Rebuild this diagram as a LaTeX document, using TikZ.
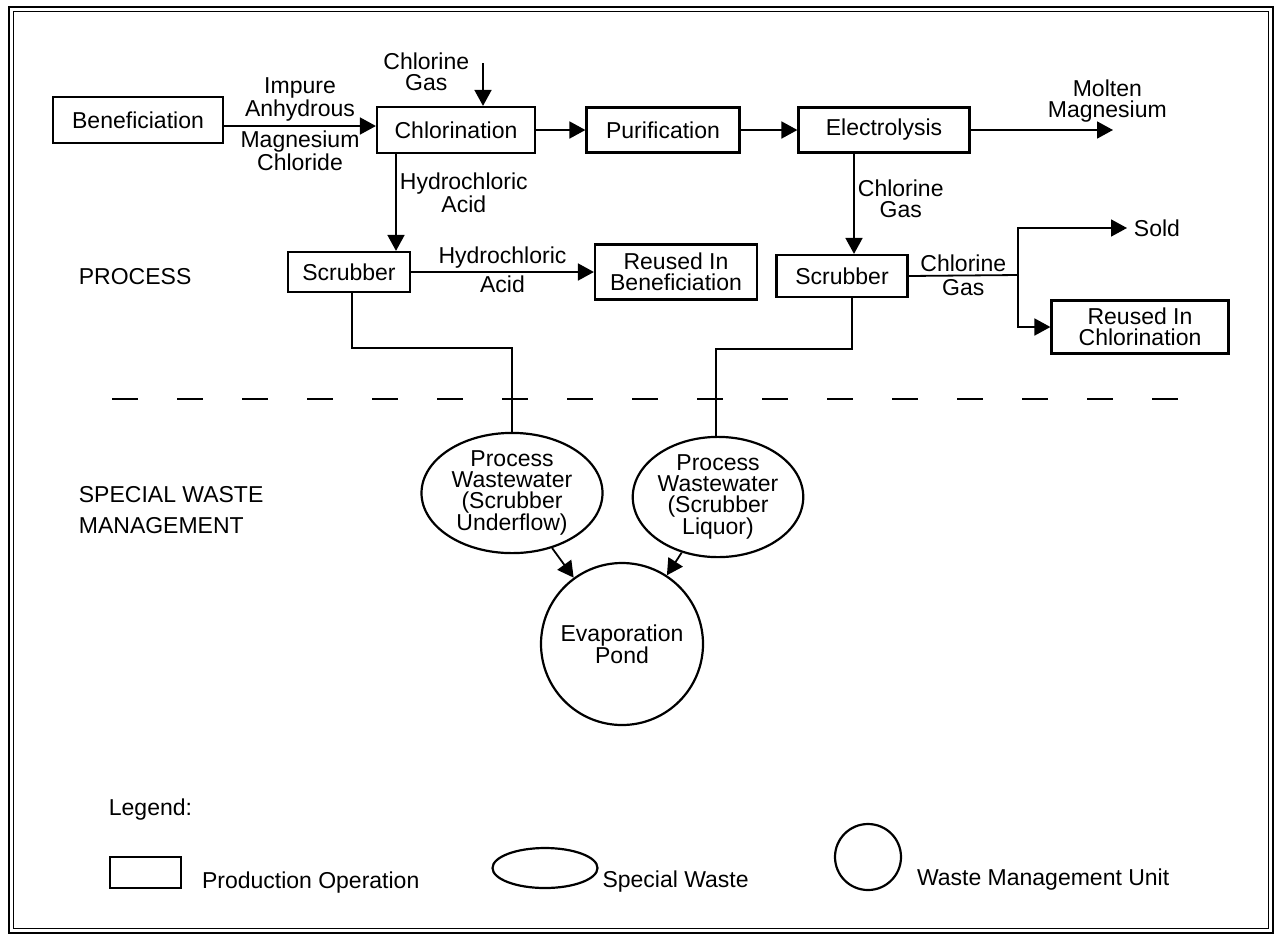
\documentclass[tikz,border=0pt]{standalone}
\usepackage{fontspec}
\setmainfont{Liberation Sans}
\usetikzlibrary{shapes,arrows.meta,calc,positioning}

\tikzset{
  opbox/.style={draw,rectangle,line width=2.2pt,inner sep=2pt,align=center},
  waste/.style={draw,ellipse,line width=2.2pt,inner sep=0pt,align=center,
                font=\fontsize{23}{21}\selectfont},
  unit/.style={draw,circle,line width=2.2pt,inner sep=0pt,align=center},
  flow/.style={align=center,inner sep=3pt},
  legtext/.style={inner sep=0pt}
}

\begin{document}
\begin{tikzpicture}[x=1pt,y=-1pt,->,>={Triangle[length=16pt,width=17pt]},auto,
                    node distance=200pt,line width=1.8pt,
                    font=\fontsize{23}{21}\selectfont]

 \useasboundingbox (0,0) rectangle (1279,938);
 \draw[-,line width=2.6pt] (9,7) rectangle (1273,933);
 \draw[-,line width=1pt] (13.5,11.5) rectangle (1268,928.5);

 % production operations
 \node[opbox,minimum width=170pt,minimum height=46pt] (benef) at (138,120) {Beneficiation};
 \node[opbox,minimum width=158pt,minimum height=46pt] (chlor) at (456,130) {Chlorination};
 \node[opbox,minimum width=153pt,minimum height=45pt] (purif) [right of=chlor,node distance=207pt] {Purification};
 \node[opbox,minimum width=171pt,minimum height=45pt] (elec) [right of=purif,node distance=221pt] {Electrolysis};
 \node[opbox,minimum width=122pt,minimum height=40pt] (scrub1) at (349,272) {Scrubber};
 \node[opbox,minimum width=162pt,minimum height=55pt] (reuseb) [right of=scrub1,node distance=327pt] {Reused In\\Beneficiation};
 \node[opbox,minimum width=131pt,minimum height=42pt] (scrub2) at (842,276) {Scrubber};
 \node[opbox,minimum width=177pt,minimum height=53pt] (reusec) at (1140,327) {Reused In\\Chlorination};

 % special wastes and unit
 \node[waste,minimum width=181pt,minimum height=113pt] (ww1) at (512,493) {Process\\Wastewater\\(Scrubber\\Underflow)};
 \node[waste,minimum width=158pt,minimum height=113pt] (ww2) at (718,497) {Process\\Wastewater\\(Scrubber\\Liquor)};
 \node[unit,minimum size=162pt] (pond) at (622,644) {Evaporation\\Pond};

 \coordinate (clgas) at (483,63);
 \coordinate (mgout) at (1113,130);
 \coordinate (split) at (1018,275);
 \node[flow,anchor=west,inner sep=6pt] (sold) at (1127,228) {Sold};

 \path (clgas) edge node[flow,left=10pt,pos=0.2]{Chlorine\\Gas} (clgas |- chlor.north);
 \draw[->] ([yshift=-6pt]benef.east) -- node[flow,above=1pt]{Impure\\Anhydrous}
                                        node[flow,below=1pt]{Magnesium\\Chloride} ([yshift=4pt]chlor.west);
 \draw[->] (chlor) -- (purif);
 \draw[->] (purif) -- (elec);
 \draw[->] (elec) -- node[flow,pos=0.96,above=4pt]{Molten\\Magnesium} (mgout);
 \draw[->] ([xshift=-60pt]chlor.south) -- node[flow,right,pos=0.4]{Hydrochloric\\Acid} ([xshift=47pt]scrub1.north);
 \draw[->] (scrub1.east) -- node[flow,above]{Hydrochloric} node[flow,below]{Acid} (scrub1.east -| reuseb.west);
 \draw[->] ([xshift=-30pt]elec.south) -- node[flow,right,pos=0.45]{Chlorine\\Gas} ([xshift=12pt]scrub2.north);
 \draw[-] (scrub2.east) -- node[flow,above]{Chlorine} node[flow,below]{Gas} (split);
 \draw[->] (split) |- (sold);
 \draw[->] (split) |- (reusec);

 \draw[-] ([xshift=3pt]scrub1.south) -- ++(0,55) -| (ww1.north);
 \draw[-] ([xshift=10pt]scrub2.south) -- ++(0,51) -| ([xshift=-2pt]ww2.north);
 \draw[->] (ww1) -- (pond);
 \draw[->] (ww2) -- (pond);

 % process / waste boundary
 \draw[-,line width=2pt,dash pattern=on 26pt off 39pt] (112,399) -- (1196,399);
 \node[anchor=west,inner sep=0pt] (proclbl) at (78,277) {PROCESS};
 \node[anchor=west,align=left,inner sep=0pt] (swmlbl) at (78,510) {SPECIAL WASTE\\[10pt]MANAGEMENT};

 % legend
 \node[anchor=west,inner sep=0pt] (legend) at (108,810) {Legend:};
 \node[opbox,minimum width=71pt,minimum height=31pt] (legop) at (145.5,872.5) {};
 \node[legtext,right=19pt of legop,yshift=-10pt] {Production Operation};
 \node[waste,minimum width=105pt,minimum height=40pt] (legsw) at (545,868) {};
 \node[legtext,right=3pt of legsw,yshift=-14pt] {Special Waste};
 \node[unit,minimum size=66pt] (legwmu) at (868,857) {};
 \node[legtext,right=14pt of legwmu,yshift=-23pt] {Waste Management Unit};
\end{tikzpicture}
\end{document}
